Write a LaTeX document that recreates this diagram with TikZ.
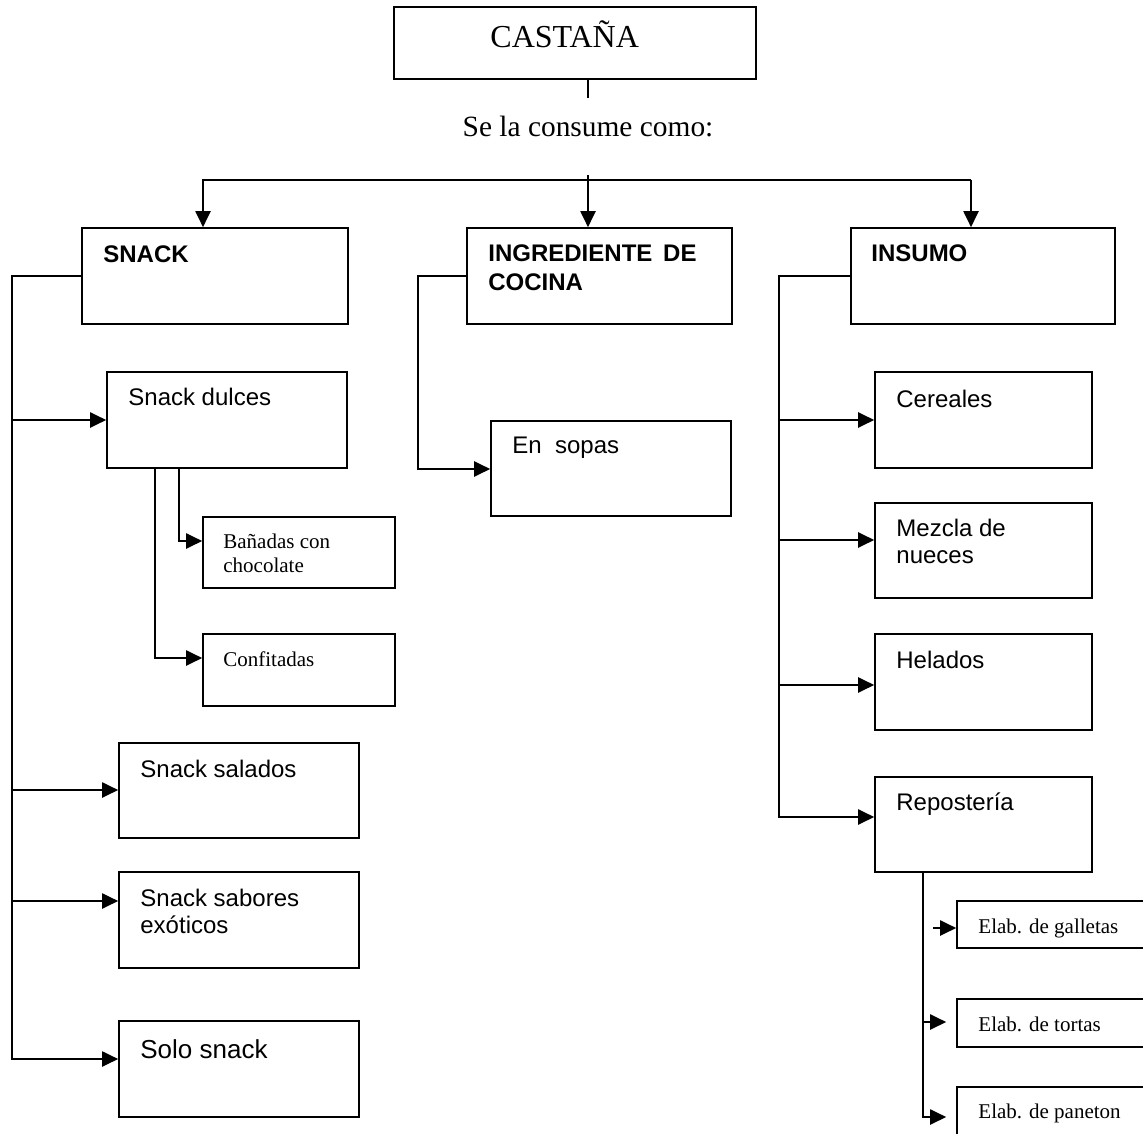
\documentclass[tikz,border=0pt]{standalone}
\usepackage{fontspec}
\setmainfont{Liberation Serif}
\newfontfamily\arial{Liberation Sans}
\usetikzlibrary{arrows.meta,fit}

\begin{document}
\begin{tikzpicture}[x=0.5pt,y=-0.5pt,
        caja/.style={draw,line width=0.8pt,inner sep=0pt},
        txt/.style={anchor=base west,inner sep=0pt,font=\arial\fontsize{12}{14}\selectfont},
        txtb/.style={txt,font=\arial\bfseries\fontsize{12}{14}\selectfont},
        txtr/.style={anchor=base west,inner sep=0pt,font=\fontsize{10.5}{12}\selectfont},
        linea/.style={line width=1pt},
        flecha/.style={linea,-{Triangle[length=8pt,width=7.5pt]}}]
        %marco
        \useasboundingbox (0,0) rectangle (1143,1133);
        \fill[white] (0,0) rectangle (1143,1133);
        \clip (0,0) rectangle (1143,1133);

        % Raiz
        \node[caja,fit={(394,7) (756,79)}] (castana) {};
        \node[anchor=base west,inner sep=0pt,font=\fontsize{16}{19}\selectfont] (tcastana) at (490,48) {CASTAÑA};
        \node[anchor=base,inner sep=0pt,font=\fontsize{14.7}{18}\selectfont] (consume) at (588,137) {Se la consume como:};

        % Cajas principales
        \node[caja,fit={(82,228) (348,324)}] (snack) {};
        \node[caja,fit={(467,228) (732,324)}] (cocina) {};
        \node[caja,fit={(851,228) (1115,324)}] (insumo) {};
        \node[txtb] (tsnack) at (103,263) {SNACK};
        \node[txtb] (tcocina1) at (488,262) {INGREDIENTE\hspace{0.45em}DE};
        \node[txtb] (tcocina2) at (488,291) {COCINA};
        \node[txtb] (tinsumo) at (871,262) {INSUMO};

        % Reparto
        \coordinate (tronco) at (588,98);
        \coordinate (reparto) at (588,175);
        \coordinate (ramaS) at (203,180);
        \coordinate (ramaI) at (971,180);
        \draw[linea] (castana.south -| tronco) -- (tronco);
        \draw[flecha] (reparto) -- (cocina.north -| reparto);
        \draw[flecha] (ramaI) -- (ramaS) -- (snack.north -| ramaS);
        \draw[flecha] (ramaI) -- (insumo.north -| ramaI);

        % Snack
        \node[caja,fit={(107,372) (347,468)}] (dulces) {};
        \node[caja,fit={(203,517) (395,588)}] (banadas) {};
        \node[caja,fit={(203,634) (395,706)}] (confitadas) {};
        \node[caja,fit={(119,743) (359,838)}] (salados) {};
        \node[caja,fit={(119,872) (359,968)}] (sabores) {};
        \node[caja,fit={(119,1021) (359,1117)}] (solo) {};
        \node[txt] (tdulces) at (128,405) {Snack dulces};
        \node[txtr] (tbanadas1) at (223,548) {Bañadas con};
        \node[txtr] (tbanadas2) at (223,572) {chocolate};
        \node[txtr] (tconfitadas) at (223,666) {Confitadas};
        \node[txt] (tsalados) at (140,777) {Snack salados};
        \node[txt] (tsabores1) at (140,906) {Snack sabores};
        \node[txt] (tsabores2) at (140,933) {exóticos};
        \node[txt,font=\arial\fontsize{13}{15}\selectfont] (tsolo) at (140,1058) {Solo snack};

        \coordinate (ejeS) at (12,1059);
        \draw[flecha] (snack.west) -- (snack.west -| ejeS) -- (ejeS) -- (solo.west |- ejeS);
        \foreach \dest/\yy in {dulces/420,salados/790,sabores/901}
            \draw[flecha] (ejeS |- 0,\yy) -- (\dest.west |- 0,\yy);

        \coordinate (ejeD1) at (179,541);
        \coordinate (ejeD2) at (155,658);
        \draw[flecha] (dulces.south -| ejeD1) -- (ejeD1) -- (banadas.west |- ejeD1);
        \draw[flecha] (dulces.south -| ejeD2) -- (ejeD2) -- (confitadas.west |- ejeD2);

        % Ingrediente de cocina
        \node[caja,fit={(491,421) (731,516)}] (sopas) {};
        \node[txt] (tsopas) at (512,453) {En\ \ sopas};
        \coordinate (ejeC) at (418,469);
        \draw[flecha] (cocina.west) -- (cocina.west -| ejeC) -- (ejeC) -- (sopas.west |- ejeC);

        % Insumo
        \node[caja,fit={(875,372) (1092,468)}] (cereales) {};
        \node[caja,fit={(875,503) (1092,598)}] (mezcla) {};
        \node[caja,fit={(875,634) (1092,730)}] (helados) {};
        \node[caja,fit={(875,777) (1092,872)}] (reposteria) {};
        \node[txt] (tcereales) at (896,407) {Cereales};
        \node[txt] (tmezcla1) at (896,536) {Mezcla de};
        \node[txt] (tmezcla2) at (896,563) {nueces};
        \node[txt] (thelados) at (896,668) {Helados};
        \node[txt] (treposteria) at (896,810) {Repostería};

        \coordinate (ejeI) at (779,817);
        \draw[flecha] (insumo.west) -- (insumo.west -| ejeI) -- (ejeI) -- (reposteria.west |- ejeI);
        \foreach \dest/\yy in {cereales/420,mezcla/540,helados/685}
            \draw[flecha] (ejeI |- 0,\yy) -- (\dest.west |- 0,\yy);

        % Reposteria
        \node[caja,fit={(957,901) (1160,948)}] (galletas) {};
        \node[caja,fit={(957,999) (1160,1047)}] (tortas) {};
        \node[caja,fit={(957,1087) (1160,1150)}] (paneton) {};
        \node[txtr] (tgalletas) at (978,933) {Elab. de galletas};
        \node[txtr] (ttortas) at (978,1031) {Elab. de tortas};
        \node[txtr] (tpaneton) at (978,1118) {Elab. de paneton};

        \coordinate (ejeR) at (923,1117);
        \coordinate (galI) at (933,928);
        \draw[flecha,shorten >=5pt] (reposteria.south -| ejeR) -- (ejeR) -- (paneton.west |- ejeR);
        \draw[flecha,shorten >=5pt] (ejeR |- 0,1022) -- (tortas.west |- 0,1022);
        \draw[flecha] (galI) -- (galletas.west |- galI);
    \end{tikzpicture}
\end{document}
